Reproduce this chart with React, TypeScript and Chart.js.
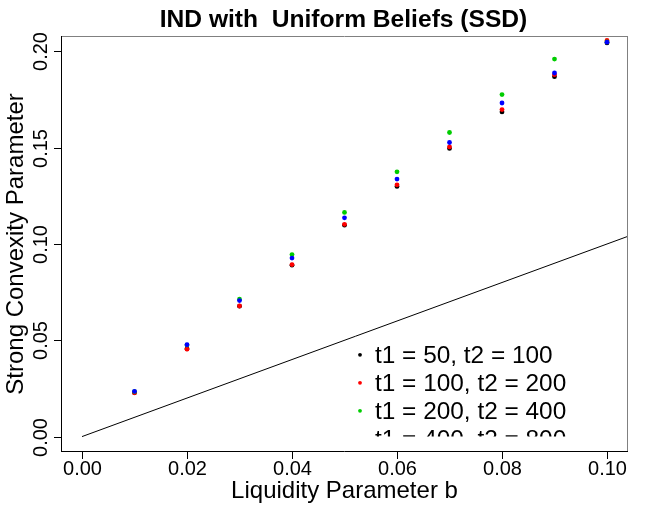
import React, { useEffect, useRef } from "react";
import { Chart, registerables } from "chart.js";

Chart.register(...registerables);

const bValues = [0.01, 0.02, 0.03, 0.04, 0.05, 0.06, 0.07, 0.08, 0.09, 0.1];
const t50 = [0.0228, 0.0456, 0.0677, 0.089, 0.1098, 0.1299, 0.1496, 0.1686, 0.1869, 0.2044];
const t100 = [0.0227, 0.0454, 0.0678, 0.0893, 0.1102, 0.1307, 0.1504, 0.1698, 0.1879, 0.2057];
const t200 = [0.0234, 0.0475, 0.0713, 0.0945, 0.1164, 0.1375, 0.1579, 0.1776, 0.196, 0.205];
const t400 = [0.0235, 0.0477, 0.0706, 0.0927, 0.1136, 0.1337, 0.1527, 0.1732, 0.1888, 0.2048];
const refLineX = [0, 0.11];
const refLineY = [0, 0.11];

const seriesLabels = ["t1 = 50, t2 = 100", "t1 = 100, t2 = 200", "t1 = 200, t2 = 400", "t1 = 400, t2 = 800"];
const seriesColors = ["#000000", "#ff0000", "#00cd00", "#0000ff"];
const xTicks = [0, 0.02, 0.04, 0.06, 0.08, 0.1];
const xTickLabels = ["0.00", "0.02", "0.04", "0.06", "0.08", "0.10"];
const yTicks = [0, 0.05, 0.1, 0.15, 0.2];
const yTickLabels = ["0.00", "0.05", "0.10", "0.15", "0.20"];

const TITLE = "IND with  Uniform Beliefs (SSD)";
const X_TITLE = "Liquidity Parameter b";
const Y_TITLE = "Strong Convexity Parameter";
const FONT = "'Liberation Sans', Arial, Helvetica, sans-serif";

const axesPlugin = {
  id: "rAxes",
  afterDraw(chart: any) {
    const ctx = chart.ctx as CanvasRenderingContext2D;
    const { left, right, top, bottom } = chart.chartArea;
    const xs = chart.scales.x;
    const ys = chart.scales.y;
    ctx.save();
    // box
    ctx.lineWidth = 1;
    ctx.strokeStyle = "#808080";
    ctx.beginPath();
    ctx.moveTo(left, top + 0.5);
    ctx.lineTo(right, top + 0.5);
    ctx.moveTo(right - 0.5, top);
    ctx.lineTo(right - 0.5, bottom);
    ctx.stroke();
    ctx.strokeStyle = "#000";
    ctx.beginPath();
    ctx.moveTo(left + 0.5, top);
    ctx.lineTo(left + 0.5, bottom);
    ctx.moveTo(left, bottom - 0.5);
    ctx.lineTo(right, bottom - 0.5);
    ctx.stroke();

    ctx.fillStyle = "#000";
    ctx.font = `20px ${FONT}`;
    // x ticks
    ctx.textAlign = "center";
    ctx.textBaseline = "alphabetic";
    xTicks.forEach((v, i) => {
      const px = Math.round(xs.getPixelForValue(v)) + 0.5;
      ctx.beginPath();
      ctx.moveTo(px, bottom);
      ctx.lineTo(px, bottom + 7);
      ctx.stroke();
      ctx.fillText(xTickLabels[i], px, bottom + 23);
    });
    // y ticks
    yTicks.forEach((v, i) => {
      const py = Math.round(ys.getPixelForValue(v)) + 0.5;
      ctx.beginPath();
      ctx.moveTo(left - 7, py);
      ctx.lineTo(left, py);
      ctx.stroke();
      ctx.save();
      ctx.translate(left - 14, py);
      ctx.rotate(-Math.PI / 2);
      ctx.textAlign = "center";
      ctx.fillText(yTickLabels[i], 0, 0);
      ctx.restore();
    });
    // axis titles
    ctx.font = `24px ${FONT}`;
    ctx.fillText(X_TITLE, (left + right) / 2, bottom + 45.5);
    ctx.save();
    ctx.translate(22.5, (top + bottom) / 2);
    ctx.rotate(-Math.PI / 2);
    ctx.fillText(Y_TITLE, 0, 0);
    ctx.restore();
    // main title
    ctx.font = `bold 24.6px ${FONT}`;
    ctx.fillText(TITLE, (left + right) / 2 - 1, 26.7);

    // legend (clipped)
    const clipBottom = ys.getPixelForValue(0);
    ctx.save();
    ctx.beginPath();
    ctx.rect(left, top, right - left, clipBottom - top);
    ctx.clip();
    ctx.font = `24.4px ${FONT}`;
    ctx.textAlign = "left";
    seriesLabels.forEach((lab, i) => {
      const base = 363.3 + i * 28;
      ctx.fillStyle = seriesColors[i];
      ctx.beginPath();
      ctx.arc(360, base - 8.5, 1.9, 0, Math.PI * 2);
      ctx.fill();
      ctx.fillStyle = "#000";
      ctx.fillText(lab, 375, base);
    });
    ctx.restore();
    ctx.restore();
  },
};

export default function App() {
  const ref = useRef<HTMLCanvasElement | null>(null);
  useEffect(() => {
    document.body.style.margin = "0";
    const canvas = ref.current!;
    const series = [t50, t100, t200, t400];
    const datasets: any[] = series.map((vals, i) => ({
      label: seriesLabels[i],
      data: bValues.map((b, j) => ({ x: b, y: vals[j] })),
      backgroundColor: seriesColors[i],
      borderColor: seriesColors[i],
      pointRadius: 2.4,
      pointBorderWidth: 0,
      showLine: false,
      order: 4 - i,
    }));
    datasets.push({
      label: "ref",
      data: refLineX.map((x, i) => ({ x, y: refLineY[i] })),
      borderColor: "#000",
      borderWidth: 1,
      pointRadius: 0,
      showLine: true,
      order: 5,
    });
    const chart = new Chart(canvas, {
      type: "scatter",
      data: { datasets },
      options: {
        animation: false,
        responsive: false,
        devicePixelRatio: 1,
        layout: { padding: { left: 61, right: 36, top: 36, bottom: 61 } },
        scales: {
          x: { type: "linear", min: -0.004, max: 0.104, display: false },
          y: { type: "linear", min: -0.008, max: 0.208, display: false },
        },
        plugins: { legend: { display: false }, tooltip: { enabled: false }, title: { display: false } },
      },
      plugins: [axesPlugin],
    } as any);
    return () => chart.destroy();
  }, []);
  return <canvas ref={ref} width={664} height={513} style={{ display: "block" }} />;
}
